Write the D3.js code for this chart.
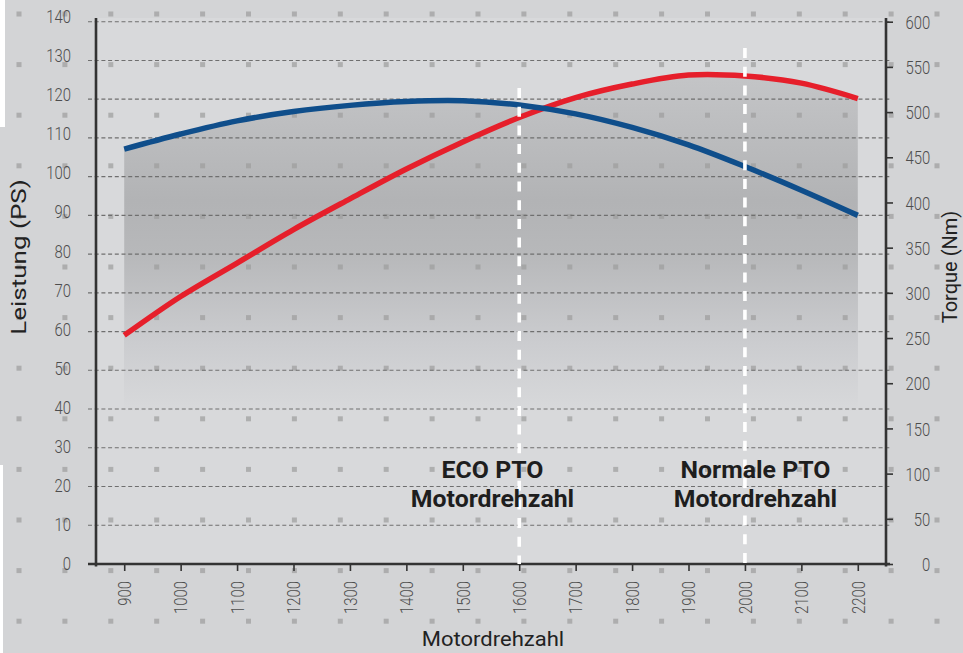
<!DOCTYPE html>
<html>
<head>
<meta charset="utf-8">
<script src="https://cdn.jsdelivr.net/npm/d3@7/dist/d3.min.js"></script>
<style>
  html, body { margin: 0; padding: 0; background: #d3d4d6; }
  svg { display: block; }
</style>
</head>
<body>
<svg id="chart" width="963" height="653"></svg>
<script>
// ---------- DATA ----------
const rpm       = [900, 1000, 1100, 1200, 1300, 1400, 1500, 1600, 1700, 1800, 1900, 2000, 2100, 2200];
const powerPS   = [107.1, 111.0, 114.4, 116.8, 118.4, 119.4, 119.6, 118.5, 116.2, 112.7, 108.2, 102.6, 96.5, 90.0];
const torqueNm  = [253, 296, 333, 370, 404, 437, 467, 494, 516, 531, 541, 540, 532, 515];
const psTicks   = [0, 10, 20, 30, 40, 50, 60, 70, 80, 90, 100, 110, 120, 130, 140];
const nmTicks   = [0, 50, 100, 150, 200, 250, 300, 350, 400, 450, 500, 550, 600];
const markerRpm = [1600, 2000];
const markerLabels = [["ECO PTO", "Motordrehzahl"], ["Normale PTO", "Motordrehzahl"]];
const xTitle = "Motordrehzahl";
const yLeftTitle = "Leistung (PS)";
const yRightTitle = "Torque (Nm)";

// ---------- LAYOUT ----------
const W = 963, H = 653;
const axL = 96, axR = 886, axB = 564, axT = 18;
const markerTop = [88, 48];
const markerTextX = [492.5, 755.5];

const svg = d3.select("#chart");
const x  = d3.scaleLinear().domain([850, 2250]).range([axL, axR]);
const yL = d3.scaleLinear().domain([0, 140]).range([axB, 21.7]);
const yLlab = d3.scaleLinear().domain([0, 140]).range([563, 16.5]);
const yR = d3.scaleLinear().domain([0, 600]).range([axB, 21.7]);

const data = rpm.map((r, i) => ({ rpm: r, ps: powerPS[i], nm: torqueNm[i] }));

// background
svg.append("rect").attr("width", W).attr("height", H).attr("fill", "#d3d4d6");
svg.append("rect").attr("x", 0).attr("y", 0).attr("width", 5).attr("height", 127).attr("fill", "#ffffff");
svg.append("rect").attr("x", 0).attr("y", 465).attr("width", 3).attr("height", H - 465).attr("fill", "#ffffff");
svg.append("rect").attr("x", axL).attr("y", axT).attr("width", axR - axL).attr("height", axB - axT).attr("fill", "#d8d9db");

// gradient
const defs = svg.append("defs");
const grad = defs.append("linearGradient").attr("id", "areaGrad")
  .attr("gradientUnits", "userSpaceOnUse").attr("x1", 0).attr("x2", 0).attr("y1", 60).attr("y2", 412);
[[0, "#c6c7c9"], [0.4, "#b2b3b5"], [0.55, "#b7b8ba"], [0.8, "#cbcccf"], [1, "#d8d9db"]]
  .forEach(([o, c]) => grad.append("stop").attr("offset", o).attr("stop-color", c));

const curve = d3.curveCatmullRom.alpha(0.5);
const areaR = d3.area().curve(curve).x(d => x(d.rpm)).y0(axB).y1(d => yR(d.nm));
const areaB = d3.area().curve(curve).x(d => x(d.rpm)).y0(axB).y1(d => yL(d.ps));
svg.append("path").datum(data).attr("d", areaR).attr("fill", "url(#areaGrad)");
svg.append("path").datum(data).attr("d", areaB).attr("fill", "url(#areaGrad)");

// decorative square dots
const dotX = d3.range(21).map(k => 19 + 45.9 * k);
const dotY = d3.range(13).map(k => 14 + 50.6 * k);
const dots = svg.append("g");
dotY.forEach(yy => dotX.forEach(xx => {
  dots.append("rect").attr("x", xx - 2.5).attr("y", yy - 2.5).attr("width", 5).attr("height", 5)
    .attr("fill", "#9d9d9d").attr("opacity", 0.7);
}));

// gridlines
svg.append("g").selectAll("line").data(psTicks.filter(v => v > 0)).join("line")
  .attr("x1", 88).attr("x2", 892)
  .attr("y1", d => yL(d)).attr("y2", d => yL(d))
  .attr("stroke", "#6f6f6f").attr("stroke-width", 1.1).attr("stroke-dasharray", "4,2.7");

const sx = 0.85;
const tickFont = "Roboto, 'DejaVu Sans', sans-serif";

// left axis (labels)
const gL = svg.append("g").attr("transform", `translate(${axL},0)`)
  .call(d3.axisLeft(yLlab).tickValues(psTicks).tickSize(0));
gL.select(".domain").remove();
gL.selectAll("text").attr("x", -25 / sx).attr("dy", "0.36em")
  .attr("transform", `scale(${sx},1)`)
  .attr("font-family", tickFont).attr("font-weight", 300).attr("font-size", 17.5)
  .attr("fill", "#4d4d4d").attr("text-anchor", "end");

// right axis
const gR = svg.append("g").attr("transform", `translate(${axR},0)`)
  .call(d3.axisRight(yR).tickValues(nmTicks).tickSize(7));
gR.select(".domain").remove();
gR.selectAll("line").attr("stroke", "#333").attr("stroke-width", 1.6);
gR.selectAll("text").attr("x", 44.3 / sx).attr("dy", "0.38em")
  .attr("transform", `scale(${sx},1)`)
  .attr("font-family", tickFont).attr("font-weight", 300).attr("font-size", 17.5)
  .attr("fill", "#4d4d4d").attr("text-anchor", "end");

// bottom axis
const gB = svg.append("g").attr("transform", `translate(0,${axB})`)
  .call(d3.axisBottom(x).tickValues(rpm).tickSize(7).tickFormat(d3.format("d")));
gB.select(".domain").remove();
gB.selectAll("line").attr("stroke", "#333").attr("stroke-width", 1.6);
gB.selectAll("text").attr("x", -17 / sx).attr("y", 0).attr("dy", "0.36em")
  .attr("transform", `rotate(-90) scale(${sx},1)`)
  .attr("font-family", tickFont).attr("font-weight", 300).attr("font-size", 17.5)
  .attr("fill", "#4d4d4d").attr("text-anchor", "end");

// axis lines
const axisStroke = "#333";
svg.append("line").attr("x1", axL).attr("x2", axL).attr("y1", axT).attr("y2", axB + 2.5)
  .attr("stroke", axisStroke).attr("stroke-width", 2.6);
svg.append("line").attr("x1", axR).attr("x2", axR).attr("y1", axT).attr("y2", axB + 2.5)
  .attr("stroke", axisStroke).attr("stroke-width", 2.6);
svg.append("line").attr("x1", 88).attr("x2", 890).attr("y1", axB).attr("y2", axB)
  .attr("stroke", axisStroke).attr("stroke-width", 2.6);

// curves
const lineR = d3.line().curve(curve).x(d => x(d.rpm)).y(d => yR(d.nm));
const lineB = d3.line().curve(curve).x(d => x(d.rpm)).y(d => yL(d.ps));
svg.append("path").datum(data).attr("d", lineR).attr("fill", "none")
  .attr("stroke", "#e61f2b").attr("stroke-width", 5.5);
svg.append("path").datum(data).attr("d", lineB).attr("fill", "none")
  .attr("stroke", "#0f4e8b").attr("stroke-width", 5.5);

// white dashed markers
markerRpm.forEach((r, i) => {
  svg.append("line").attr("x1", x(r)).attr("x2", x(r)).attr("y1", markerTop[i]).attr("y2", axB)
    .attr("stroke", "#ffffff").attr("stroke-width", 3.6).attr("stroke-dasharray", "10,8.7");
});

// marker labels (slightly widened like the original face)
markerLabels.forEach((lines, i) => {
  lines.forEach((t, j) => {
    const tx = svg.append("text").attr("x", markerTextX[i]).attr("y", 478 + j * 29)
      .attr("text-anchor", "middle")
      .attr("font-family", "Roboto, 'DejaVu Sans', sans-serif").attr("font-weight", 700)
      .attr("font-size", 23).attr("fill", "#1e1e1e").text(t);
    const w = tx.node().getComputedTextLength();
    tx.attr("textLength", w * 1.08).attr("lengthAdjust", "spacingAndGlyphs");
  });
});

// titles
svg.append("text").attr("transform", "translate(493,646) scale(1.1,1)").attr("text-anchor", "middle")
  .attr("font-family", "Roboto, sans-serif").attr("font-weight", 400).attr("font-size", 20)
  .attr("fill", "#222").text(xTitle);
svg.append("text").attr("transform", "translate(26,257) rotate(-90) scale(1.24,1)").attr("text-anchor", "middle")
  .attr("font-family", "Roboto, sans-serif").attr("font-weight", 400).attr("font-size", 21)
  .attr("fill", "#222").text(yLeftTitle);
svg.append("text").attr("transform", "translate(957,267) rotate(-90)").attr("text-anchor", "middle")
  .attr("font-family", "Roboto, sans-serif").attr("font-weight", 400).attr("font-size", 20)
  .attr("fill", "#222").text(yRightTitle);
</script>
</body>
</html>
